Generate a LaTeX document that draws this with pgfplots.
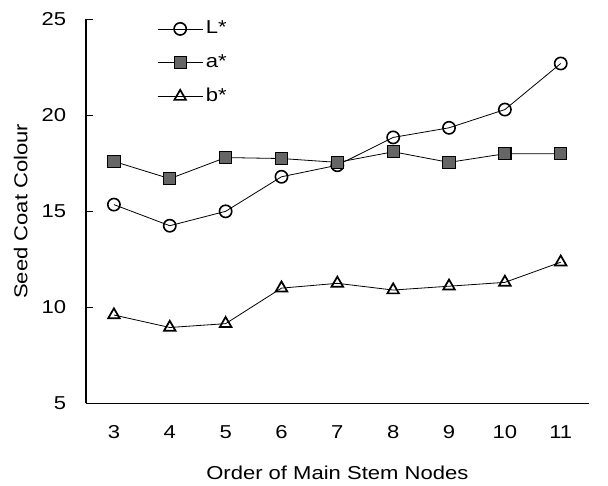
\documentclass[border=0pt]{standalone}
\usepackage{fontspec}
\setmainfont[FakeStretch=1.18]{Liberation Sans}
\usepackage{pgfplots}
\pgfplotsset{compat=1.18}
\begin{document}
\fontsize{14pt}{17pt}\selectfont
\begin{tikzpicture}
\begin{axis}[
  scale only axis, width=377pt, height=288pt,
  xmin=2.5, xmax=11.5, ymin=5, ymax=25,
  axis lines*=left,
  axis line style={line width=1pt},
  clip=false,
  xtick={3,...,11}, xtick style={draw=none},
  minor xtick={3.5,4.5,...,11.5},
  ytick={5,10,...,25},
  tick align=inside,
  major tick length=5pt, minor tick length=5pt,
  every tick/.style={black, line width=1pt},
  /pgf/number format/assume math mode=true,
  font=\fontsize{14pt}{17pt}\selectfont,
  xticklabel style={yshift=-12pt},
  yticklabel style={xshift=-10pt},
  xlabel={Order of Main Stem Nodes},
  ylabel={Seed Coat Colour},
  xlabel style={at={(axis description cs:0.5,-0.18)}, anchor=center},
  ylabel style={at={(axis description cs:-0.13,0.5)}, anchor=center},
  legend style={at={(rel axis cs:0.133,1.01)}, anchor=north west, draw=none, fill=none,
    font=\fontsize{14pt}{17pt}\selectfont, row sep=9.5pt},
  legend cell align=left,
  legend image code/.code={\draw[mark repeat=2,mark phase=2] plot coordinates {(0pt,0pt) (17pt,0pt) (34pt,0pt)};},
]
\addplot[black, line width=0.6pt, mark=o, mark size=4.6pt, mark options={line width=1.2pt, fill=white, solid}]
  coordinates {(3,15.35) (4,14.25) (5,15.0) (6,16.8) (7,17.4) (8,18.85) (9,19.35) (10,20.3) (11,22.7)};
\addlegendentry{L*}
\addplot[black, line width=0.6pt, mark=square*, mark size=4.6pt, mark options={line width=0.8pt, fill=black!60, draw=black, solid}]
  coordinates {(3,17.6) (4,16.7) (5,17.8) (6,17.75) (7,17.55) (8,18.1) (9,17.55) (10,18.0) (11,18.0)};
\addlegendentry{a*}
\addplot[black, line width=0.6pt, mark=triangle, mark size=5pt, mark options={line width=1.3pt, fill=white, solid}]
  coordinates {(3,9.6) (4,8.95) (5,9.15) (6,11.0) (7,11.25) (8,10.9) (9,11.1) (10,11.3) (11,12.35)};
\addlegendentry{b*}
\path (rel axis cs:0,0) ++(-64.5pt,-58.5pt) rectangle ++(456pt,361pt);
\end{axis}
\end{tikzpicture}
\end{document}
